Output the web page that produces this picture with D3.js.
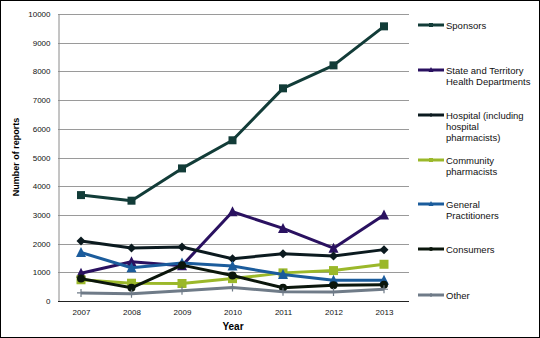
<!DOCTYPE html>
<html><head><meta charset="utf-8">
<script src="https://cdn.jsdelivr.net/npm/d3@7"></script>
<style>body{margin:0;background:#fff;}svg{display:block;font-family:"Liberation Sans",Arial,sans-serif;}</style>
</head><body><svg id="c" width="540" height="338"></svg>
<script>
const years = ["2007","2008","2009","2010","2011","2012","2013"];
const yTicks = [0,1000,2000,3000,4000,5000,6000,7000,8000,9000,10000];
const sponsors = [3690,3495,4620,5600,7410,8210,9570];
const stateHealth = [965,1370,1230,3110,2530,1840,3000];
const hospital = [2090,1850,1880,1470,1650,1570,1790];
const community = [740,620,610,780,980,1060,1280];
const gps = [1690,1160,1320,1220,920,720,720];
const consumers = [780,460,1250,890,460,550,570];
const other = [280,250,360,470,320,310,410];
const seriesNames = ["Sponsors","State and Territory\nHealth Departments","Hospital (including\nhospital\npharmacists)","Community\npharmacists","General\nPractitioners","Consumers","Other"];

const series = [
  {name:seriesNames[0], values:sponsors, color:"#123c38", marker:"square", size:8},
  {name:seriesNames[1], values:stateHealth, color:"#2a1160", marker:"triangle", size:9},
  {name:seriesNames[2], values:hospital, color:"#0b1a1f", marker:"diamond", size:9},
  {name:seriesNames[3], values:community, color:"#9bb82a", marker:"square", size:9},
  {name:seriesNames[4], values:gps, color:"#1b5c9c", marker:"triangle", size:9},
  {name:seriesNames[5], values:consumers, color:"#0b160c", marker:"circle", size:8},
  {name:seriesNames[6], values:other, color:"#6f7b88", marker:"plus", size:8}
];
const legendY = [25,70,115,160,204,249,295];

const svg = d3.select("#c");
svg.append("rect").attr("x",0.5).attr("y",0.5).attr("width",539).attr("height",337).attr("fill","#fff").attr("stroke","#000").attr("stroke-width",1);

const x = d3.scalePoint().domain(years).range([81,384]);
const y = d3.scaleLinear().domain([0,10000]).range([301,14]);

svg.append("g").selectAll("line").data(yTicks.slice(1)).join("line")
  .attr("x1",58).attr("x2",409).attr("y1",d=>Math.round(y(d))+0.5).attr("y2",d=>Math.round(y(d))+0.5)
  .attr("stroke","#9a9a9a").attr("stroke-width",1);

const ya = svg.append("g").attr("transform","translate(58.5,0)")
  .call(d3.axisLeft(y).tickValues(yTicks).tickSize(0).tickPadding(8).tickFormat(d3.format("d")));
ya.select(".domain").attr("stroke","#8a8a8a");
ya.selectAll("text").attr("font-size",8).attr("fill","#111");

const xa = svg.append("g").attr("transform","translate(0,301.5)")
  .call(d3.axisBottom(x).tickSize(0).tickPadding(8));
xa.select(".domain").remove();
svg.append("line").attr("x1",58).attr("x2",409).attr("y1",301.5).attr("y2",301.5).attr("stroke","#222");
xa.selectAll("text").attr("font-size",8).attr("fill","#111");

svg.append("text").attr("x",233).attr("y",330).attr("text-anchor","middle")
  .attr("font-size",10).attr("font-weight","bold").text("Year");
svg.append("text").attr("transform","translate(19,157) rotate(-90)").attr("text-anchor","middle")
  .attr("font-size",9).attr("font-weight","bold").text("Number of reports");

function marker(g, type, size, color){
  const s=size/2;
  if(type==="square") g.append("rect").attr("x",-s).attr("y",-s).attr("width",size).attr("height",size).attr("fill",color);
  else if(type==="triangle") g.append("path").attr("d",`M0,${-s-1}L${s+0.5},${s}L${-s-0.5},${s}Z`).attr("fill",color);
  else if(type==="diamond") g.append("path").attr("d",`M0,${-s}L${s},0L0,${s}L${-s},0Z`).attr("fill",color);
  else if(type==="circle") g.append("circle").attr("r",s).attr("fill",color);
  else if(type==="plus") g.append("path").attr("d",`M${-s},0H${s}M0,${-s}V${s}`).attr("stroke",color).attr("stroke-width",1.2);
}

const line = d3.line().x((d,i)=>x(years[i])).y(d=>y(d));
series.forEach(s=>{
  svg.append("path").attr("d",line(s.values)).attr("fill","none").attr("stroke",s.color).attr("stroke-width",3).attr("stroke-linejoin","round");
  s.values.forEach((v,i)=>{
    const g=svg.append("g").attr("transform",`translate(${x(years[i])},${y(v)})`);
    marker(g,s.marker,s.size,s.color);
  });
});

series.forEach((s,i)=>{
  const ly=legendY[i];
  svg.append("line").attr("x1",418).attr("x2",444).attr("y1",ly).attr("y2",ly).attr("stroke",s.color).attr("stroke-width",3);
  const g=svg.append("g").attr("transform",`translate(431,${ly})`);
  marker(g,s.marker,4,s.color);
  const t=svg.append("text").attr("x",446).attr("y",ly+3.5).attr("font-size",9.5).attr("fill","#111");
  s.name.split("\n").forEach((ln,k)=>t.append("tspan").attr("x",446).attr("dy",k===0?0:11.2).text(ln));
});
</script></body></html>
